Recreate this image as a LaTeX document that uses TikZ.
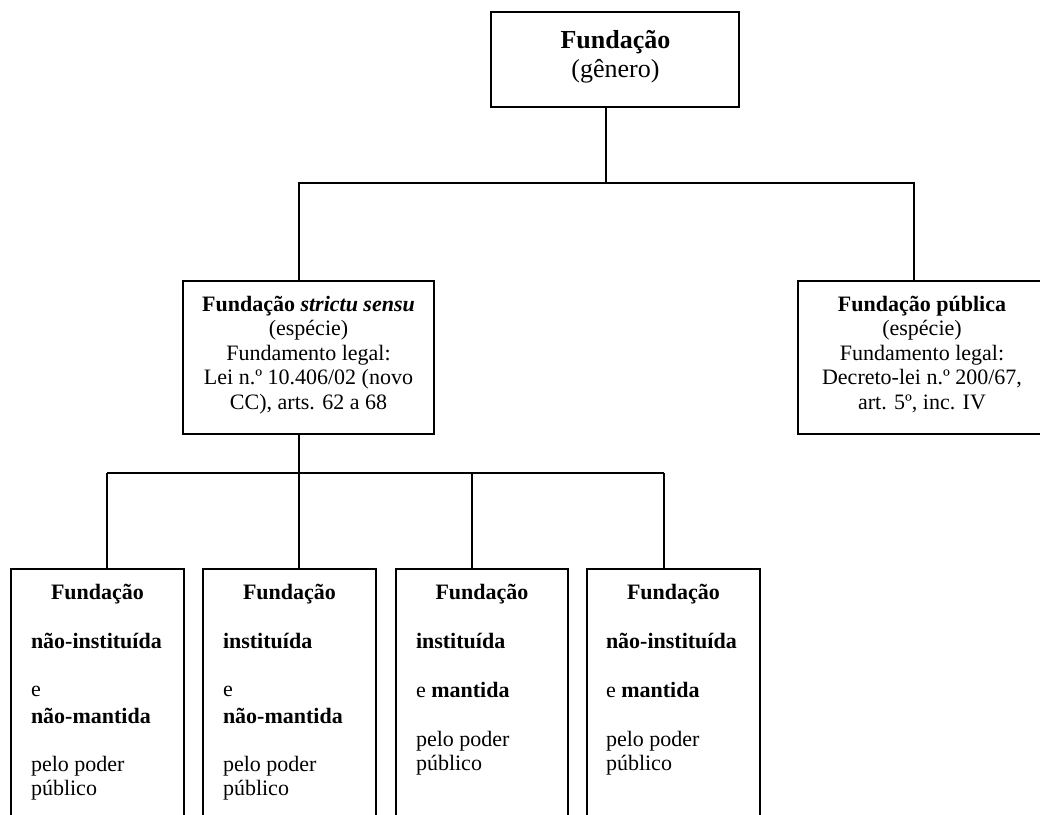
\documentclass[tikz,border=0pt]{standalone}
\usepackage{fontspec}
\setmainfont{Liberation Serif}
\begin{document}
\begin{tikzpicture}[x=1pt,y=-1pt,
  boxst/.style={draw=black, line width=2.2pt, rectangle, inner sep=0pt, outer sep=0pt, anchor=north west},
  conn/.style={draw=black, line width=1.6pt},
  txt/.style={inner sep=0pt, outer sep=0pt, font=\fontsize{22}{24}\selectfont},
  ctxt/.style={txt, anchor=base},
  ltxt/.style={txt, anchor=base west},
  bigtxt/.style={inner sep=0pt, outer sep=0pt, anchor=base, font=\fontsize{26}{29}\selectfont}
]
\useasboundingbox (0,0) rectangle (1040,814);
\clip (0,0) rectangle (1040,814);
\fill[white] (0,0) rectangle (1040,814);

% boxes
\node[boxst, minimum width=248pt, minimum height=95pt] (top) at (491,12) {};
\node[boxst, minimum width=251pt, minimum height=153pt] (midL) at (183,281) {};
\node[boxst, minimum width=260pt, minimum height=153pt] (midR) at (798,281) {};
\node[boxst, minimum width=173pt, minimum height=270pt] (b1) at (11,569) {};
\node[boxst, minimum width=173pt, minimum height=270pt] (b2) at (203,569) {};
\node[boxst, minimum width=172pt, minimum height=270pt] (b3) at (396,569) {};
\node[boxst, minimum width=173pt, minimum height=270pt] (b4) at (587,569) {};

% top text
\node[bigtxt] (topa) at (615.5,48) {\textbf{Fundação}};
\node[bigtxt] (topb) at (615.5,77) {(gênero)};

% mid left text
\node[ctxt] (mla) at (308.5,311) {\textbf{Fundação \textit{strictu sensu}}};
\node[ctxt] (mlb) at (308.5,335) {(espécie)};
\node[ctxt] (mlc) at (308.5,360) {Fundamento legal:};
\node[ctxt] (mld) at (308.5,384) {Lei n.º 10.406/02 (novo};
\node[ctxt] (mle) at (308.5,409) {CC), arts. 62 a 68};

% mid right text
\node[ctxt] (mra) at (922,311) {\textbf{Fundação pública}};
\node[ctxt] (mrb) at (922,335) {(espécie)};
\node[ctxt] (mrc) at (922,360) {Fundamento legal:};
\node[ctxt] (mrd) at (922,384) {Decreto-lei n.º 200/67,};
\node[ctxt] (mre) at (922,409) {art. 5º, inc. IV};

% bottom box 1
\node[ctxt] (b1a) at (97.5,599) {\textbf{Fundação}};
\node[ltxt] (b1b) at (31,648) {\textbf{não-instituída}};
\node[ltxt] (b1c) at (31,696) {e};
\node[ltxt] (b1d) at (31,723) {\textbf{não-mantida}};
\node[ltxt] (b1e) at (31,771) {pelo poder};
\node[ltxt] (b1f) at (31,795) {público};

% bottom box 2
\node[ctxt] (b2a) at (289.5,599) {\textbf{Fundação}};
\node[ltxt] (b2b) at (223,648) {\textbf{instituída}};
\node[ltxt] (b2c) at (223,696) {e};
\node[ltxt] (b2d) at (223,723) {\textbf{não-mantida}};
\node[ltxt] (b2e) at (223,771) {pelo poder};
\node[ltxt] (b2f) at (223,795) {público};

% bottom box 3
\node[ctxt] (b3a) at (482,599) {\textbf{Fundação}};
\node[ltxt] (b3b) at (416,648) {\textbf{instituída}};
\node[ltxt] (b3c) at (416,697) {e \textbf{mantida}};
\node[ltxt] (b3d) at (416,746) {pelo poder};
\node[ltxt] (b3e) at (416,770) {público};

% bottom box 4
\node[ctxt] (b4a) at (673.5,599) {\textbf{Fundação}};
\node[ltxt] (b4b) at (606,648) {\textbf{não-instituída}};
\node[ltxt] (b4c) at (606,697) {e \textbf{mantida}};
\node[ltxt] (b4d) at (606,746) {pelo poder};
\node[ltxt] (b4e) at (606,770) {público};

% connectors level 1
\coordinate (j0) at (606,183);
\coordinate (jl) at (299,183);
\coordinate (jr) at (914,183);
\draw[conn] (j0 |- top.south) -- (j0);
\draw[conn] (jl |- midL.north) -- (jl) -- (jr) -- (jr |- midR.north);

% connectors level 2
\coordinate (k0) at (299,473);
\coordinate (k1) at (107,473);
\coordinate (k2) at (299,473);
\coordinate (k3) at (472,473);
\coordinate (k4) at (664,473);
\draw[conn] (k0 |- midL.south) -- (k0);
\draw[conn] (k1) -- (k4);
\draw[conn] (k1) -- (k1 |- b1.north);
\draw[conn] (k2) -- (k2 |- b2.north);
\draw[conn] (k3) -- (k3 |- b3.north);
\draw[conn] (k4) -- (k4 |- b4.north);
\end{tikzpicture}
\end{document}
